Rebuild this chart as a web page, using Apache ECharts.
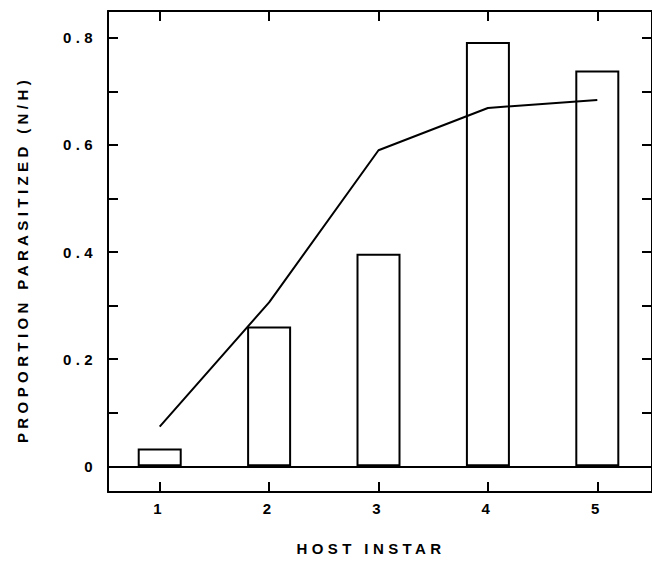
<!DOCTYPE html>
<html>
<head>
<meta charset="utf-8">
<script src="https://cdn.jsdelivr.net/npm/echarts@6/dist/echarts.min.js"></script>
<style>
  html, body { margin: 0; padding: 0; background: #fff; }
  #c { width: 652px; height: 561px; }
  #c text { letter-spacing: 4.4px; }
</style>
</head>
<body>
<div id="c"></div>
<script>
// Data
const instars = [1, 2, 3, 4, 5];
const barValues = [0.033, 0.261, 0.397, 0.792, 0.739];
const lineValues = [0.074, 0.306, 0.590, 0.669, 0.684];
const yTickValues = [0, 0.1, 0.2, 0.3, 0.4, 0.5, 0.6, 0.7, 0.8];
const yLabelValues = [0, 0.2, 0.4, 0.6, 0.8];
const xTickValues = [1, 2, 3, 4, 5];
const xTitle = 'HOST INSTAR';
const yTitle = 'PROPORTION PARASITIZED (N/H)';

const FONT = '"Liberation Sans", Arial, Helvetica, sans-serif';
const INK = '#000';
const LW = 2;

const chart = echarts.init(document.getElementById('c'), null, { renderer: 'svg' });

const xRange = { min: 0.5273, max: 5.5 };
const yRange = { min: -0.048, max: 0.85 };

chart.setOption({
  animation: false,
  backgroundColor: '#fff',
  grid: { left: 108, right: -3, top: 11, bottom: 64, containLabel: false },
  xAxis: [
    {
      type: 'value', position: 'bottom', min: xRange.min, max: xRange.max,
      axisLine: { show: true, onZero: false, lineStyle: { color: INK, width: LW } },
      axisTick: { show: true, inside: true, length: 10, customValues: xTickValues, lineStyle: { color: INK, width: LW } },
      axisLabel: { show: true, customValues: xTickValues, margin: 9, color: INK, fontFamily: FONT, fontSize: 15, fontWeight: 'bold' },
      splitLine: { show: false },
      name: xTitle, nameLocation: 'middle', nameGap: 49,
      nameTextStyle: { color: INK, fontFamily: FONT, fontSize: 15, fontWeight: 'bold', padding: [0, 18, 0, 0] }
    },
    {
      type: 'value', position: 'top', min: xRange.min, max: xRange.max,
      axisLine: { show: true, onZero: false, lineStyle: { color: INK, width: LW } },
      axisTick: { show: true, inside: true, length: 10, customValues: xTickValues, lineStyle: { color: INK, width: LW } },
      axisLabel: { show: false },
      splitLine: { show: false }
    }
  ],
  yAxis: [
    {
      type: 'value', position: 'left', min: yRange.min, max: yRange.max,
      axisLine: { show: true, onZero: false, lineStyle: { color: INK, width: LW } },
      axisTick: { show: true, inside: true, length: 10, customValues: yTickValues, lineStyle: { color: INK, width: LW } },
      axisLabel: {
        show: true, customValues: yLabelValues, margin: 11, color: INK,
        fontFamily: FONT, fontSize: 15, fontWeight: 'bold',
        formatter: v => (Math.abs(v) < 1e-9 ? '0' : v.toFixed(1))
      },
      splitLine: { show: false },
      name: yTitle, nameLocation: 'middle', nameGap: 78,
      nameTextStyle: { color: INK, fontFamily: FONT, fontSize: 15, fontWeight: 'bold', padding: [0, 16, 0, 0] }
    },
    {
      type: 'value', position: 'right', min: yRange.min, max: yRange.max,
      axisLine: { show: true, onZero: false, lineStyle: { color: INK, width: LW } },
      axisTick: { show: true, inside: true, length: 10, customValues: yTickValues, lineStyle: { color: INK, width: LW } },
      axisLabel: { show: false },
      splitLine: { show: false }
    }
  ],
  series: [
    {
      type: 'bar',
      xAxisIndex: 0, yAxisIndex: 0,
      data: instars.map((x, i) => [x, barValues[i]]),
      barWidth: 44,
      itemStyle: { color: '#fff', borderColor: INK, borderWidth: LW },
      emphasis: { disabled: true },
      markLine: {
        silent: true, symbol: ['none', 'none'], label: { show: false },
        lineStyle: { color: INK, width: LW, type: 'solid' },
        data: [{ yAxis: 0 }]
      },
      z: 2
    },
    {
      type: 'line',
      xAxisIndex: 0, yAxisIndex: 0,
      data: instars.map((x, i) => [x, lineValues[i]]),
      showSymbol: false, symbol: 'none',
      lineStyle: { color: INK, width: LW },
      emphasis: { disabled: true },
      z: 3
    }
  ]
});
</script>
</body>
</html>
